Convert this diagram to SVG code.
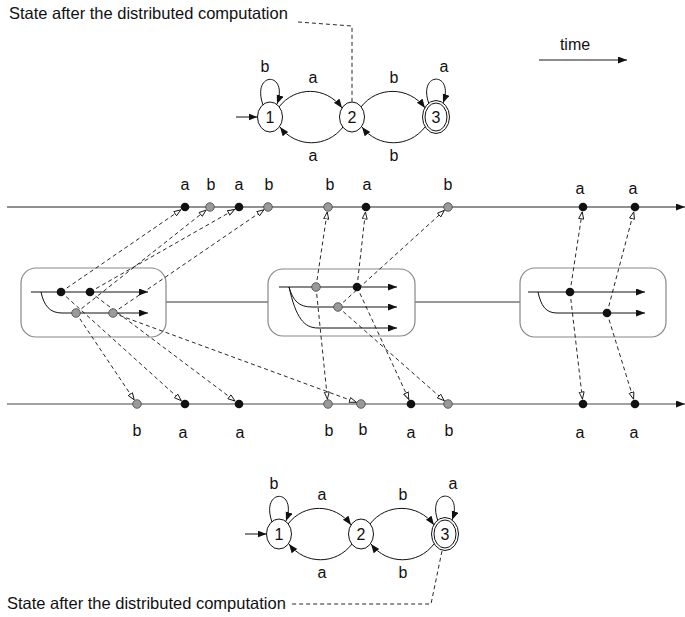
<svg xmlns="http://www.w3.org/2000/svg" width="685" height="617" viewBox="0 0 685 617">
<defs>
<marker id="solid" markerUnits="userSpaceOnUse" markerWidth="10" markerHeight="8" refX="9" refY="3.5" orient="auto"><path d="M0,0 L9,3.5 L0,7 z" fill="#111"/></marker>
<marker id="open" markerUnits="userSpaceOnUse" markerWidth="10" markerHeight="8" refX="8" refY="3" orient="auto"><path d="M0.5,0.5 L7.5,3 L0.5,5.5 z" fill="#fff" stroke="#111" stroke-width="0.9"/></marker>
<style>
text{font-family:"Liberation Sans",Arial,sans-serif;font-size:16px;fill:#111}
.cap{font-size:16.5px}
.lbl{text-anchor:middle}
.st{fill:#fff;stroke:#111;stroke-width:1}
.edge{fill:none;stroke:#111;stroke-width:1;marker-end:url(#solid)}
.lead{fill:none;stroke:#111;stroke-width:0.9;stroke-dasharray:4,3}
.msg{fill:none;stroke:#111;stroke-width:0.9;stroke-dasharray:4,3;marker-end:url(#open)}
.tl{fill:none;stroke:#222;stroke-width:1.2;marker-end:url(#solid)}
.box{fill:#fff;stroke:#888;stroke-width:1.2}
.link{stroke:#777;stroke-width:1.5}
.thra{fill:none;stroke:#111;stroke-width:1;marker-end:url(#solid)}
.bk{fill:#111}
.gr{fill:#9a9a9a;stroke:#444;stroke-width:0.8}
</style>
</defs>

<!-- header texts -->
<g id="caption-top"><text class="cap" x="9" y="19">State after the distributed computation</text>
<path class="lead" d="M298,22 L352,26 L352,102"/></g>
<g id="time"><text x="575" y="50" class="lbl">time</text>
<line x1="539" y1="60" x2="627" y2="60" stroke="#666" stroke-width="1.5" marker-end="url(#solid)"/></g>

<!-- top automaton -->
<g id="automaton-top" transform="translate(270,117)">
<g id="top-edges">
<line class="edge" x1="-34" y1="0" x2="-12.5" y2="0"/>
<path class="edge" d="M-7,-12 C-19,-46 19,-46 7,-13"/>
<path class="edge" d="M9,-10 C25,-31 56,-31 72,-9"/>
<path class="edge" d="M73,10 C57,31 26,31 10,10"/>
<path class="edge" d="M91,-10 C107,-31 139,-31 155,-9"/>
<path class="edge" d="M155,10 C139,31 108,31 92,10"/>
<path class="edge" d="M159,-13 C147,-46 185,-46 173,-14"/>
<text x="-5" y="-45" class="lbl">b</text>
<text x="43" y="-34" class="lbl">a</text>
<text x="124" y="-34" class="lbl">b</text>
<text x="174" y="-45" class="lbl">a</text>
<text x="43" y="44" class="lbl">a</text>
<text x="124" y="44" class="lbl">b</text>
</g>
<g id="top-s1"><ellipse class="st" cx="0" cy="0" rx="12.5" ry="15"/><text x="0" y="6" class="lbl">1</text></g>
<g id="top-s2"><ellipse class="st" cx="82" cy="0" rx="12.5" ry="15"/><text x="82" y="6" class="lbl">2</text></g>
<g id="top-s3"><ellipse class="st" cx="166" cy="0" rx="13.5" ry="16.5"/><ellipse class="st" cx="166" cy="0" rx="11" ry="14"/><text x="166" y="6" class="lbl">3</text></g>
</g>

<!-- timelines -->
<g id="timeline-top"><line class="tl" x1="7" y1="207" x2="685" y2="207"/></g>
<g id="timeline-bottom"><line class="tl" x1="7" y1="404" x2="685" y2="404" style="stroke:#444"/></g>

<!-- processes -->
<g id="links"><line class="link" x1="166" y1="302" x2="268" y2="302"/><line class="link" x1="415" y1="302" x2="520" y2="302"/></g>
<g id="proc-left">
<rect class="box" x="21" y="268" width="145" height="69" rx="15"/>
<line class="thra" x1="31" y1="292" x2="148" y2="292"/>
<path class="thra" d="M41,292 C44,306 50,313 62,313 L148,313"/>
</g>
<g id="proc-mid">
<rect class="box" x="268" y="269" width="147" height="67" rx="15"/>
<line class="thra" x1="279" y1="287" x2="397" y2="287"/>
<path class="thra" d="M289,287 C293,301 299,307 312,307 L397,307"/>
<path class="thra" d="M289,287 C296,318 304,328 318,328 L397,328"/>
</g>
<g id="proc-right">
<rect class="box" x="520" y="268" width="146" height="69" rx="15"/>
<line class="thra" x1="528" y1="292" x2="645" y2="292"/>
<path class="thra" d="M538,292 C541,306 546,313 557,313 L645,313"/>
</g>

<!-- connectors -->
<g id="connectors">
<line class="msg" x1="61" y1="292" x2="181.3" y2="209.5"/>
<line class="msg" x1="76" y1="313" x2="206.5" y2="209.8"/>
<line class="msg" x1="90" y1="292" x2="235.1" y2="209.2"/>
<line class="msg" x1="113" y1="313" x2="264.3" y2="209.5"/>
<line class="msg" x1="76" y1="313" x2="134.5" y2="400.3"/>
<line class="msg" x1="61" y1="292" x2="181.7" y2="401"/>
<line class="msg" x1="90" y1="292" x2="235.4" y2="401.3"/>
<line class="msg" x1="113" y1="313" x2="356.8" y2="402.5"/>
<line class="msg" x1="316" y1="287" x2="327.3" y2="211.5"/>
<line class="msg" x1="316" y1="287" x2="327.5" y2="399.5"/>
<line class="msg" x1="357" y1="287" x2="365.5" y2="211.5"/>
<line class="msg" x1="357" y1="287" x2="409.1" y2="399.9"/>
<line class="msg" x1="338" y1="307" x2="444.7" y2="210"/>
<line class="msg" x1="338" y1="307" x2="444.6" y2="401"/>
<line class="msg" x1="570" y1="292" x2="582.3" y2="211.4"/>
<line class="msg" x1="570" y1="292" x2="582.5" y2="399.5"/>
<line class="msg" x1="607" y1="313" x2="633.9" y2="211.4"/>
<line class="msg" x1="607" y1="313" x2="633.7" y2="399.7"/>
</g>

<!-- events -->
<g id="events-proc">
<circle class="bk" cx="61" cy="292" r="4.3"/><circle class="bk" cx="90" cy="292" r="4.3"/>
<circle class="gr" cx="76" cy="313" r="4.3"/><circle class="gr" cx="113" cy="313" r="4.3"/>
<circle class="gr" cx="316" cy="287" r="4.3"/><circle class="bk" cx="357" cy="287" r="4.3"/><circle class="gr" cx="338" cy="307" r="4.3"/>
<circle class="bk" cx="570" cy="292" r="4.3"/><circle class="bk" cx="607" cy="313" r="4.3"/>
</g>
<g id="events-top">
<circle class="bk" cx="185" cy="207" r="4.3"/><circle class="gr" cx="210" cy="207" r="4.3"/><circle class="bk" cx="239" cy="207" r="4.3"/><circle class="gr" cx="268" cy="207" r="4.3"/>
<circle class="gr" cx="328" cy="207" r="4.3"/><circle class="bk" cx="366" cy="207" r="4.3"/><circle class="gr" cx="448" cy="207" r="4.3"/>
<circle class="bk" cx="583" cy="207" r="4.3"/><circle class="bk" cx="635" cy="207" r="4.3"/>
<text x="185" y="190" class="lbl">a</text><text x="211" y="190" class="lbl">b</text><text x="239" y="190" class="lbl">a</text><text x="269" y="190" class="lbl">b</text>
<text x="330" y="190" class="lbl">b</text><text x="367" y="190" class="lbl">a</text><text x="448" y="190" class="lbl">b</text>
<text x="580" y="194" class="lbl">a</text><text x="633" y="194" class="lbl">a</text>
</g>
<g id="events-bottom">
<circle class="gr" cx="137" cy="404" r="4.3"/><circle class="bk" cx="185" cy="404" r="4.3"/><circle class="bk" cx="239" cy="404" r="4.3"/>
<circle class="gr" cx="328" cy="404" r="4.3"/><circle class="gr" cx="361" cy="404" r="4.3"/><circle class="bk" cx="411" cy="404" r="4.3"/><circle class="gr" cx="448" cy="404" r="4.3"/>
<circle class="bk" cx="583" cy="404" r="4.3"/><circle class="bk" cx="635" cy="404" r="4.3"/>
<text x="137" y="436" class="lbl">b</text><text x="183" y="438" class="lbl">a</text><text x="240" y="438" class="lbl">a</text>
<text x="329" y="436" class="lbl">b</text><text x="363" y="435" class="lbl">b</text><text x="411" y="438" class="lbl">a</text><text x="449" y="436" class="lbl">b</text>
<text x="580" y="438" class="lbl">a</text><text x="634" y="438" class="lbl">a</text>
</g>

<!-- bottom automaton -->
<g id="automaton-bottom" transform="translate(279,534)">
<g id="bottom-edges">
<line class="edge" x1="-34" y1="0" x2="-12.5" y2="0"/>
<path class="edge" d="M-7,-12 C-19,-46 19,-46 7,-13"/>
<path class="edge" d="M9,-10 C25,-31 56,-31 72,-9"/>
<path class="edge" d="M73,10 C57,31 26,31 10,10"/>
<path class="edge" d="M91,-10 C107,-31 139,-31 155,-9"/>
<path class="edge" d="M155,10 C139,31 108,31 92,10"/>
<path class="edge" d="M159,-13 C147,-46 185,-46 173,-14"/>
<text x="-5" y="-45" class="lbl">b</text>
<text x="43" y="-34" class="lbl">a</text>
<text x="124" y="-34" class="lbl">b</text>
<text x="174" y="-45" class="lbl">a</text>
<text x="43" y="44" class="lbl">a</text>
<text x="124" y="44" class="lbl">b</text>
</g>
<g id="bot-s1"><ellipse class="st" cx="0" cy="0" rx="12.5" ry="15"/><text x="0" y="6" class="lbl">1</text></g>
<g id="bot-s2"><ellipse class="st" cx="82" cy="0" rx="12.5" ry="15"/><text x="82" y="6" class="lbl">2</text></g>
<g id="bot-s3"><ellipse class="st" cx="166" cy="0" rx="13.5" ry="16.5"/><ellipse class="st" cx="166" cy="0" rx="11" ry="14"/><text x="166" y="6" class="lbl">3</text></g>
</g>
<g id="caption-bottom"><text class="cap" x="7" y="609">State after the distributed computation</text>
<path class="lead" d="M442,551 L431,604 L291,604"/></g>
</svg>
